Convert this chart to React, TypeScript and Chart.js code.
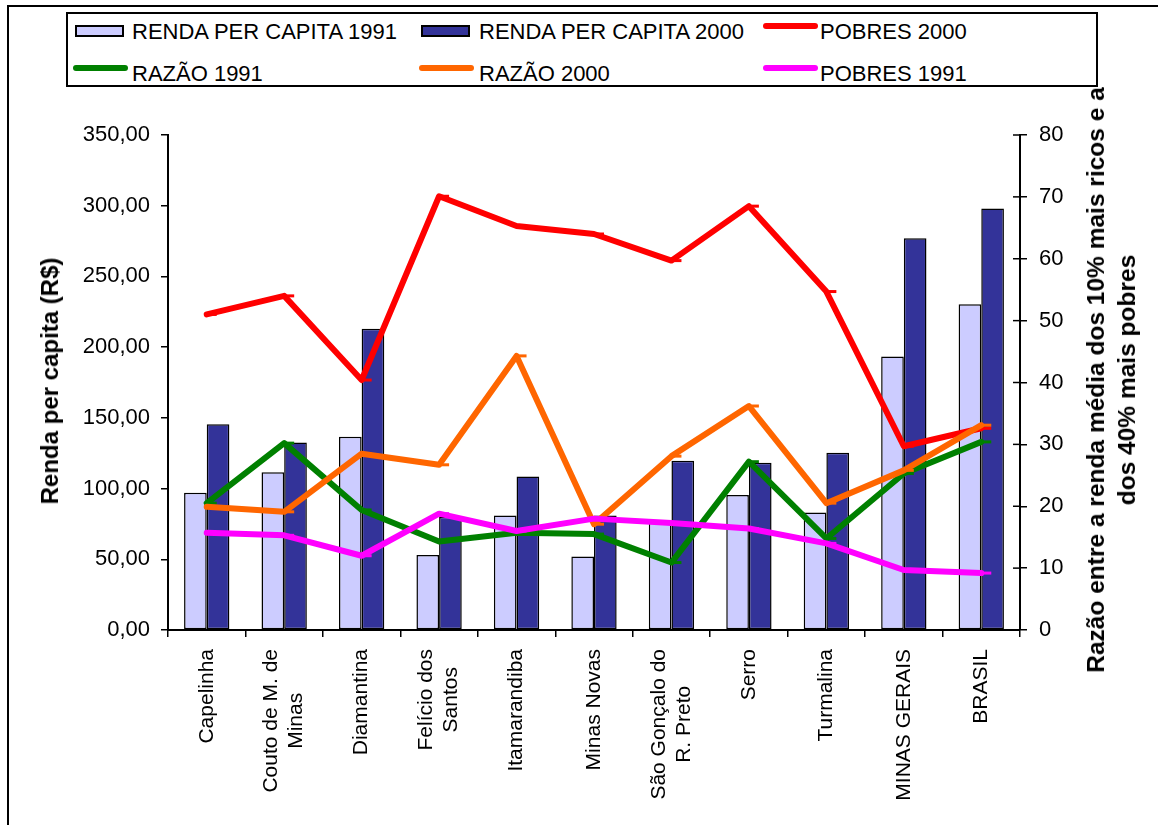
import React, { useEffect, useRef } from "react";
import { Chart, registerables } from "chart.js";

Chart.register(...registerables);

const FONT = "'Liberation Sans', Arial, sans-serif";

const categories: string[][] = [
  ["Capelinha"],
  ["Couto de M. de", "Minas"],
  ["Diamantina"],
  ["Felício dos", "Santos"],
  ["Itamarandiba"],
  ["Minas Novas"],
  ["São Gonçalo do", "R. Preto"],
  ["Serro"],
  ["Turmalina"],
  ["MINAS GERAIS"],
  ["BRASIL"],
];

const renda1991 = [97, 111.5, 136.7, 53, 81, 52, 76, 95.5, 83, 193.3, 230.3];
const renda2000 = [145.5, 132.5, 213, 80, 108.5, 81, 119.7, 118.3, 125.4, 277, 298];
const pobres2000 = [51.0, 54.0, 40.4, 70.1, 65.3, 64.0, 59.7, 68.5, 54.7, 29.7, 32.6];
const razao1991 = [20.5, 30.2, 19.4, 14.3, 15.7, 15.5, 10.9, 27.2, 14.8, 25.3, 30.4];
const razao2000 = [19.9, 19.1, 28.5, 26.7, 44.3, 17.1, 28.1, 36.2, 20.5, 25.8, 33.1];
const pobres1991 = [15.7, 15.3, 12.0, 18.8, 16.0, 18.0, 17.3, 16.4, 14.0, 9.7, 9.2];

const legendItems = [
  { label: "RENDA PER CAPITA 1991", kind: "rect", color: "#CCCCFF", iconX: 75, textX: 132, row: 0 },
  { label: "RENDA PER CAPITA 2000", kind: "rect", color: "#333399", iconX: 421, textX: 479, row: 0 },
  { label: "POBRES 2000", kind: "line", color: "#FF0000", iconX: 763, textX: 820, row: 0 },
  { label: "RAZÃO 1991", kind: "line", color: "#008000", iconX: 73, textX: 132, row: 1 },
  { label: "RAZÃO 2000", kind: "line", color: "#FF6600", iconX: 419, textX: 479, row: 1 },
  { label: "POBRES 1991", kind: "line", color: "#FF00FF", iconX: 763, textX: 820, row: 1 },
];

const lineDataset = (label: string, data: number[], color: string, order: number) => ({
  type: "line" as const,
  label,
  data,
  yAxisID: "y1",
  borderColor: color,
  backgroundColor: color,
  borderWidth: 6,
  borderJoinStyle: "round" as const,
  borderCapStyle: "round" as const,
  pointStyle: "dash" as const,
  pointRadius: 10,
  pointBorderWidth: 3,
  pointBorderColor: color,
  pointHoverRadius: 10,
  tension: 0,
  order,
});

export default function App() {
  const ref = useRef<HTMLCanvasElement>(null);

  useEffect(() => {
    if (!ref.current) return;
    const labelPlugin = {
      id: "xLabelsAndTicks",
      afterDraw(chart: any) {
        const ctx = chart.ctx;
        const xs = chart.scales.x;
        const y1 = chart.scales.y1;
        ctx.save();
        ctx.strokeStyle = "#000";
        ctx.lineWidth = 1.5;
        y1.ticks.forEach((_t: any, i: number) => {
          const py = y1.getPixelForTick(i);
          ctx.beginPath();
          ctx.moveTo(y1.left - 7, py);
          ctx.lineTo(y1.left, py);
          ctx.stroke();
        });
        ctx.font = `21px ${FONT}`;
        ctx.fillStyle = "#000";
        ctx.textAlign = "center";
        ctx.textBaseline = "middle";
        const lh = 25;
        const top = xs.top + 19;
        categories.forEach((lines, i) => {
          const px = xs.getPixelForValue(i);
          const maxW = Math.max(...lines.map((l) => ctx.measureText(l).width));
          ctx.save();
          ctx.translate(px, top);
          ctx.rotate(-Math.PI / 2);
          lines.forEach((l, k) => {
            ctx.fillText(l, -maxW / 2, (k - (lines.length - 1) / 2) * lh);
          });
          ctx.restore();
        });
        ctx.restore();
      },
    };

    const chart = new Chart(ref.current, {
      type: "bar",
      data: {
        labels: categories.map((c) => c.join(" ")),
        datasets: [
          lineDataset("POBRES 1991", pobres1991, "#FF00FF", 1),
          lineDataset("RAZÃO 2000", razao2000, "#FF6600", 2),
          lineDataset("RAZÃO 1991", razao1991, "#008000", 3),
          lineDataset("POBRES 2000", pobres2000, "#FF0000", 4),
          {
            type: "bar" as const,
            label: "RENDA PER CAPITA 1991",
            data: renda1991,
            yAxisID: "y",
            backgroundColor: "#CCCCFF",
            borderColor: "#000000",
            borderWidth: 1.5,
            borderSkipped: false,
            categoryPercentage: 0.585,
            barPercentage: 1.0,
            order: 10,
          },
          {
            type: "bar" as const,
            label: "RENDA PER CAPITA 2000",
            data: renda2000,
            yAxisID: "y",
            backgroundColor: "#333399",
            borderColor: "#000000",
            borderWidth: 1.5,
            borderSkipped: false,
            categoryPercentage: 0.585,
            barPercentage: 1.0,
            order: 11,
          },
        ] as any,
      },
      options: {
        responsive: false,
        animation: false,
        devicePixelRatio: 1,
        layout: { padding: { top: 135, left: 0, right: 0, bottom: 0 } },
        plugins: {
          legend: { display: false },
          tooltip: { enabled: false },
        },
        scales: {
          x: {
            offset: true,
            grid: {
              offset: true,
              drawOnChartArea: false,
              drawTicks: true,
              tickLength: 7,
              color: "#000",
              lineWidth: 1.5,
            },
            border: { display: true, color: "#000", width: 2 },
            ticks: { display: false },
            afterFit: (s: any) => {
              s.height = 195;
            },
          },
          y: {
            position: "left",
            min: 0,
            max: 350,
            grid: {
              drawOnChartArea: false,
              drawTicks: true,
              tickLength: 7,
              color: "#000",
              lineWidth: 1.5,
            },
            border: { display: true, color: "#000", width: 2 },
            ticks: {
              stepSize: 50,
              padding: 11,
              color: "#000",
              font: { family: FONT, size: 22 },
              callback: (v: any) => Number(v).toFixed(2).replace(".", ","),
            },
            afterFit: (s: any) => {
              s.width = 168;
            },
          },
          y1: {
            position: "right",
            min: 0,
            max: 80,
            grid: {
              drawOnChartArea: false,
              drawTicks: true,
              tickLength: 7,
              color: "#000",
              lineWidth: 1.5,
            },
            border: { display: true, color: "#000", width: 2 },
            ticks: {
              stepSize: 10,
              padding: 12,
              color: "#000",
              font: { family: FONT, size: 22 },
            },
            afterFit: (s: any) => {
              s.width = 138;
            },
          },
        },
      },
      plugins: [labelPlugin],
    });
    return () => chart.destroy();
  }, []);

  return (
    <div
      style={{
        position: "fixed",
        left: 0,
        top: 0,
        width: 1158,
        height: 825,
        overflow: "hidden",
        background: "#fff",
        fontFamily: FONT,
      }}
    >
      <div
        style={{
          position: "absolute",
          left: 7,
          top: 5,
          width: 1300,
          height: 1000,
          border: "2px solid #000",
          boxSizing: "border-box",
        }}
      />
      <canvas
        ref={ref}
        width={1158}
        height={825}
        style={{ position: "absolute", left: 0, top: 0, width: 1158, height: 825 }}
      />
      <div
        style={{
          position: "absolute",
          left: 50,
          top: 381,
          transform: "translate(-50%, -50%) rotate(-90deg)",
          whiteSpace: "nowrap",
          fontWeight: "bold",
          fontSize: 24,
          color: "#000",
        }}
      >
        Renda per capita (R$)
      </div>
      <div
        style={{
          position: "absolute",
          left: 1111,
          top: 380,
          transform: "translate(-50%, -50%) rotate(-90deg)",
          whiteSpace: "nowrap",
          fontWeight: "bold",
          fontSize: 24.5,
          lineHeight: "31px",
          textAlign: "center",
          color: "#000",
        }}
      >
        Razão entre a renda média dos 10% mais ricos e a
        <br />
        dos 40% mais pobres
      </div>
      <div
        style={{
          position: "absolute",
          left: 66,
          top: 12,
          width: 1098 - 66,
          height: 87 - 12,
          border: "2px solid #000",
          boxSizing: "border-box",
          background: "#fff",
        }}
      />
      {legendItems.map((it) => {
        const cy = it.row === 0 ? 32 : 74;
        return (
          <React.Fragment key={it.label}>
            {it.kind === "rect" ? (
              <div
                style={{
                  position: "absolute",
                  left: it.iconX,
                  top: cy - 7,
                  width: 49,
                  height: 12,
                  background: it.color,
                  border: "2px solid #000",
                  boxSizing: "border-box",
                }}
              />
            ) : (
              <div
                style={{
                  position: "absolute",
                  left: it.iconX,
                  top: cy - 9,
                  width: 55,
                  height: 6,
                  borderRadius: 3,
                  background: it.color,
                }}
              />
            )}
            <div
              style={{
                position: "absolute",
                left: it.textX,
                top: cy - 13,
                fontSize: 22,
                lineHeight: "26px",
                whiteSpace: "nowrap",
                color: "#000",
              }}
            >
              {it.label}
            </div>
          </React.Fragment>
        );
      })}
    </div>
  );
}
